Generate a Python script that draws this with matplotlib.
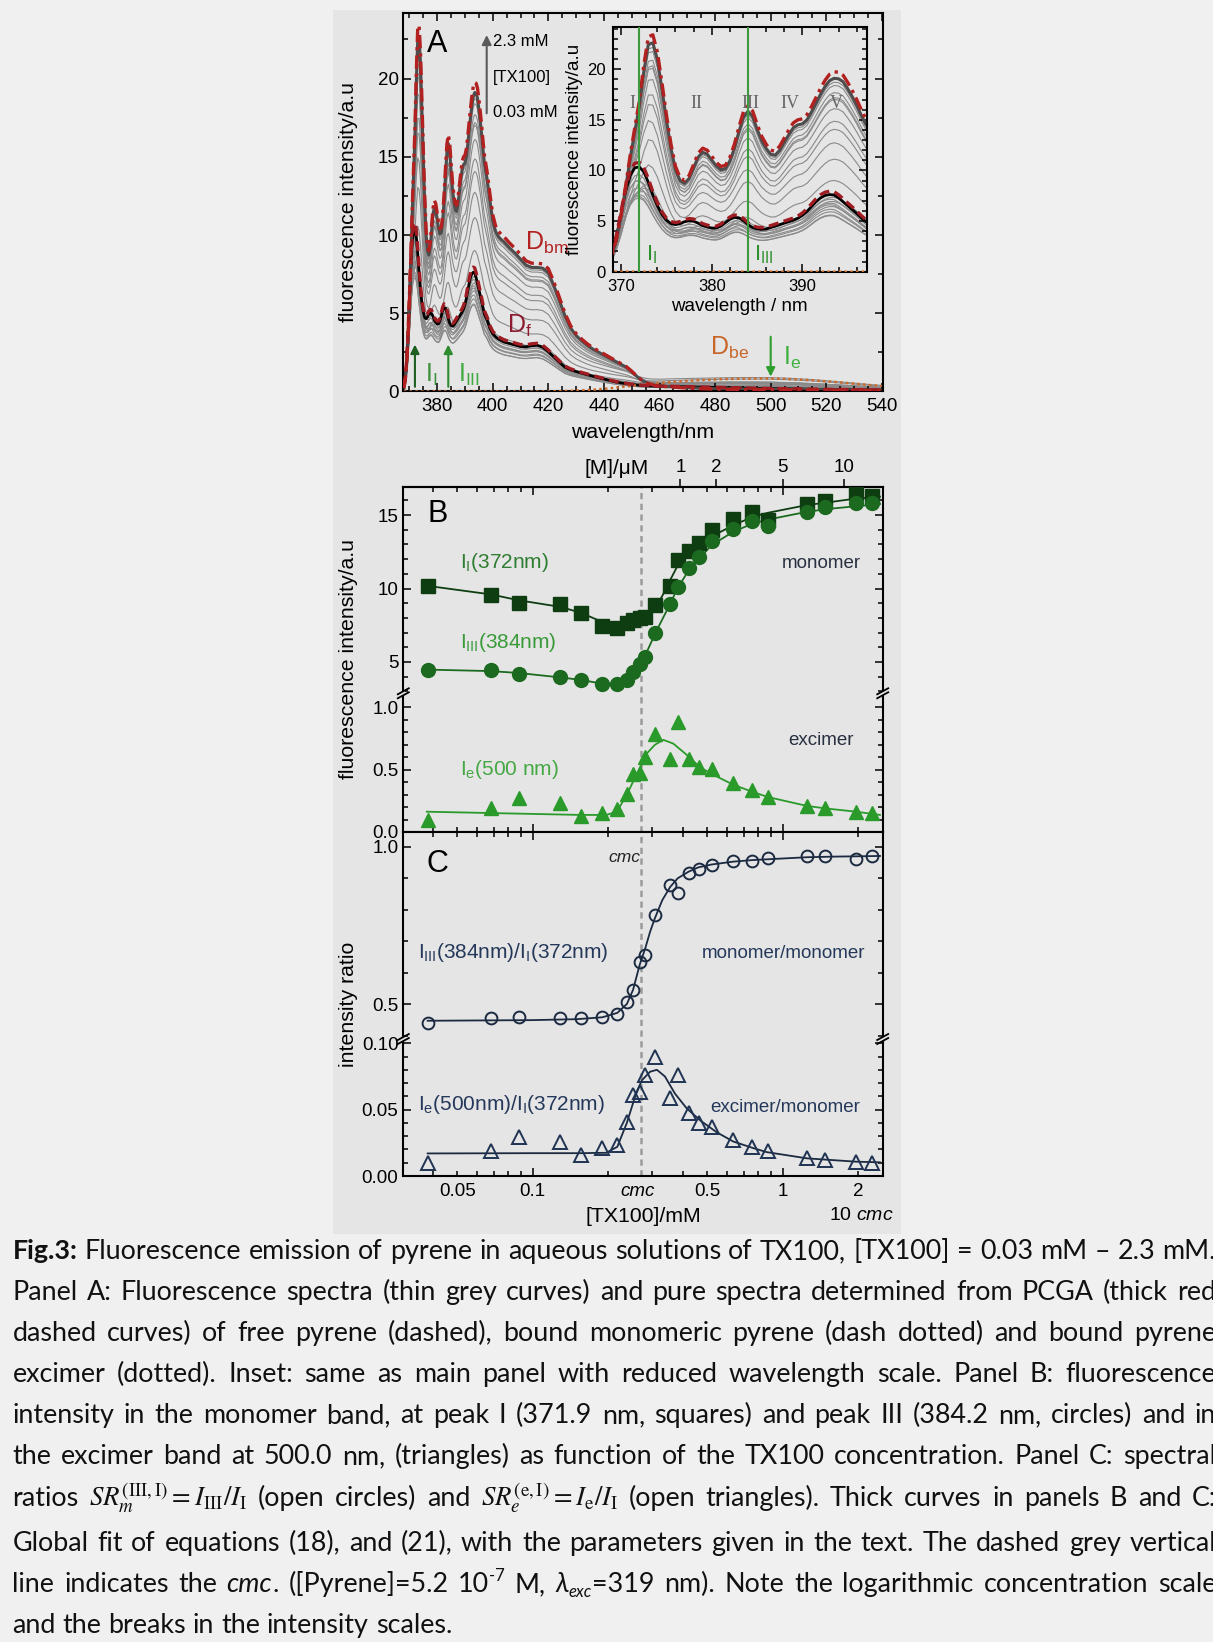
import numpy as np
import matplotlib
matplotlib.use("Agg")
import matplotlib.pyplot as plt
from matplotlib.patches import Rectangle
from matplotlib.lines import Line2D
from matplotlib.transforms import blended_transform_factory
from matplotlib.ticker import (FixedLocator, FixedFormatter, NullLocator,
                               NullFormatter, FuncFormatter, MultipleLocator,
                               LogLocator)

# ------------------------------------------------------------------
# Spectra (panel A / inset): wavelength grid and the three pure spectra
# ------------------------------------------------------------------
wavelength = np.array([
    368.0, 368.5, 369.0, 369.5, 370.0, 370.5, 371.0, 371.5, 372.0, 372.5,
    373.0, 373.5, 374.0, 374.5, 375.0, 375.5, 376.0, 376.5, 377.0, 377.5,
    378.0, 378.5, 379.0, 379.5, 380.0, 380.5, 381.0, 381.5, 382.0, 382.5,
    383.0, 383.5, 384.0, 384.5, 385.0, 385.5, 386.0, 386.5, 387.0, 387.5,
    388.0, 388.5, 389.0, 389.5, 390.0, 390.5, 391.0, 391.5, 392.0, 392.5,
    393.0, 393.5, 394.0, 394.5, 395.0, 395.5, 396.0, 396.5, 397.0,
    398, 399, 400, 401, 402, 403, 404, 405, 406,
    408, 410, 412, 414, 416, 418, 420, 422, 424, 426,
    428, 430, 432, 434, 436, 438, 440, 442, 444, 446,
    448, 450, 452, 454, 456, 458, 460,
    465, 470, 475, 480, 485, 490, 495, 500, 505, 510,
    515, 520, 525, 530, 535, 540])

# free pyrene (dashed)
D_free = np.array([
    0.3, 0.9, 1.9, 3.7, 6.0, 8.3, 9.9, 10.7, 10.8, 10.3,
    9.2, 7.9, 6.8, 5.9, 5.3, 4.95, 4.85, 4.95, 5.15, 5.25,
    5.2, 5.0, 4.75, 4.6, 4.5, 4.5, 4.7, 5.05, 5.4, 5.6,
    5.55, 5.25, 4.85, 4.55, 4.4, 4.35, 4.4, 4.55, 4.7, 4.85,
    5.0, 5.15, 5.3, 5.5, 5.8, 6.2, 6.7, 7.2, 7.6, 7.85,
    7.95, 7.9, 7.6, 7.2, 6.8, 6.4, 6.0, 5.55, 5.15,
    4.75, 4.2, 3.85, 3.65, 3.5, 3.4, 3.3, 3.25, 3.2,
    3.1, 3.0, 2.98, 3.05, 3.08, 2.95, 2.65, 2.3, 1.95, 1.62,
    1.45, 1.33, 1.22, 1.12, 1.02, 0.92, 0.83, 0.74, 0.65, 0.58,
    0.52, 0.47, 0.43, 0.4, 0.38, 0.36, 0.35,
    0.33, 0.31, 0.29, 0.27, 0.25, 0.23, 0.21, 0.2, 0.18, 0.17,
    0.15, 0.14, 0.13, 0.12, 0.11, 0.1])

# bound monomeric pyrene (dash-dotted)
D_bound_mono = np.array([
    0.2, 0.7, 1.7, 3.3, 5.6, 8.5, 11.5, 14.2, 16.8, 20.4,
    23.2, 23.4, 21.7, 18.7, 15.5, 12.6, 10.4, 9.3, 9.0, 9.5,
    10.6, 11.7, 12.2, 12.0, 11.4, 10.8, 10.4, 10.5, 11.3, 12.6,
    14.3, 15.8, 16.4, 15.9, 14.6, 13.4, 12.6, 12.0, 11.9, 12.4,
    13.2, 14.0, 14.7, 15.0, 15.1, 15.5, 16.3, 17.2, 18.1, 18.9,
    19.5, 19.75, 19.7, 19.4, 18.7, 17.9, 17.0, 16.0, 15.1,
    14.0, 12.6, 11.3, 10.6, 10.25, 10.05, 9.9, 9.7, 9.5,
    9.15, 8.75, 8.35, 8.2, 8.2, 8.15, 7.85, 7.0, 6.0, 5.0,
    4.2, 3.7, 3.35, 3.05, 2.8, 2.6, 2.4, 2.2, 2.0, 1.8,
    1.6, 1.3, 0.95, 0.68, 0.5, 0.4, 0.34,
    0.28, 0.22, 0.18, 0.15, 0.14, 0.13, 0.12, 0.12, 0.11, 0.1,
    0.1, 0.09, 0.08, 0.08, 0.07, 0.07])

# bound pyrene excimer (dotted)
D_bound_exc = np.array([
    0.0, 0.0, 0.0, 0.0, 0.0, 0.0, 0.0, 0.0, 0.0, 0.0,
    0.0, 0.0, 0.0, 0.0, 0.0, 0.0, 0.0, 0.0, 0.0, 0.0,
    0.0, 0.0, 0.0, 0.0, 0.0, 0.0, 0.0, 0.0, 0.0, 0.0,
    0.0, 0.0, 0.0, 0.0, 0.0, 0.0, 0.0, 0.0, 0.0, 0.0,
    0.0, 0.0, 0.0, 0.0, 0.0, 0.0, 0.0, 0.0, 0.0, 0.0,
    0.0, 0.0, 0.0, 0.0, 0.0, 0.0, 0.0, 0.0, 0.0,
    0.0, 0.0, 0.0, 0.0, 0.0, 0.0, 0.0, 0.0, 0.0,
    0.0, 0.0, 0.0, 0.0, 0.0, 0.0, 0.0, 0.01, 0.02, 0.03,
    0.04, 0.05, 0.07, 0.09, 0.11, 0.14, 0.17, 0.2, 0.24, 0.28,
    0.32, 0.36, 0.4, 0.44, 0.48, 0.52, 0.55,
    0.62, 0.68, 0.73, 0.77, 0.8, 0.82, 0.83, 0.83, 0.81, 0.77,
    0.72, 0.65, 0.58, 0.5, 0.42, 0.35])

# ------------------------------------------------------------------
# Titration data (panels B and C)
# ------------------------------------------------------------------
tx100_mM = np.array([0.038, 0.068, 0.088, 0.129, 0.156, 0.190, 0.218, 0.238,
                     0.252, 0.268, 0.282, 0.308, 0.355, 0.381, 0.423, 0.461,
                     0.520, 0.634, 0.757, 0.875, 1.247, 1.480, 1.960, 2.280])
I_372 = np.array([10.18, 9.59, 9.02, 8.93, 8.30, 7.45, 7.28, 7.62,
                  7.89, 7.97, 8.07, 8.87, 10.16, 11.93, 12.55, 13.07,
                  13.98, 14.70, 15.23, 14.65, 15.75, 15.98, 16.48, 16.30])
I_384 = np.array([4.48, 4.43, 4.21, 3.98, 3.80, 3.48, 3.48, 3.80,
                  4.32, 4.89, 5.34, 6.98, 8.93, 10.11, 11.43, 12.16,
                  13.25, 14.03, 14.61, 14.25, 15.23, 15.52, 15.84, 15.84])
I_500 = np.array([0.096, 0.19, 0.27, 0.23, 0.128, 0.155, 0.182, 0.305,
                  0.466, 0.47, 0.60, 0.787, 0.584, 0.886, 0.584, 0.52,
                  0.504, 0.39, 0.337, 0.279, 0.209, 0.19, 0.163, 0.15])
ratio_III_I = np.array([0.441, 0.455, 0.458, 0.455, 0.455, 0.458, 0.470, 0.505,
                        0.544, 0.634, 0.656, 0.783, 0.878, 0.851, 0.915, 0.928,
                        0.941, 0.955, 0.955, 0.963, 0.970, 0.970, 0.959, 0.970])
ratio_e_I = np.array([0.010, 0.019, 0.0296, 0.0259, 0.0158, 0.0209, 0.0234, 0.041,
                      0.061, 0.0635, 0.0761, 0.0899, 0.0585, 0.0761, 0.0472, 0.0397,
                      0.0372, 0.0271, 0.0221, 0.0191, 0.0133, 0.012, 0.0108, 0.010])

# global-fit curves
fit_I372_c = [0.038, 0.068, 0.088, 0.129, 0.156, 0.19, 0.218, 0.238, 0.26, 0.28,
              0.31, 0.33, 0.354, 0.38, 0.42, 0.46, 0.52, 0.634, 0.757, 0.876,
              1.25, 1.48, 1.96, 2.45]
fit_I372_v = [10.18, 9.6, 9.2, 8.75, 8.35, 7.72, 7.45, 7.45, 7.6, 7.9,
              8.7, 9.5, 10.55, 11.55, 12.45, 13.05, 13.55, 14.3, 14.88, 15.16,
              15.68, 15.84, 16.12, 16.25]
fit_I384_c = [0.038, 0.068, 0.088, 0.129, 0.156, 0.19, 0.218, 0.238, 0.252, 0.268,
              0.282, 0.309, 0.354, 0.379, 0.423, 0.46, 0.52, 0.634, 0.76, 0.876,
              1.25, 1.49, 1.96, 2.45]
fit_I384_v = [4.48, 4.38, 4.25, 3.95, 3.78, 3.52, 3.45, 3.7, 4.15, 4.8,
              5.45, 6.94, 8.93, 10.0, 11.3, 11.98, 12.96, 13.86, 14.43, 14.7,
              15.22, 15.4, 15.6, 15.75]
fit_I500_c = [0.0377, 0.156, 0.197, 0.217, 0.238, 0.26, 0.286, 0.308, 0.333, 0.365,
              0.413, 0.467, 0.527, 0.634, 0.763, 0.876, 1.247, 1.476, 1.964, 2.45]
fit_I500_v = [0.163, 0.137, 0.137, 0.163, 0.30, 0.46, 0.63, 0.70, 0.74, 0.71,
              0.62, 0.52, 0.46, 0.38, 0.32, 0.28, 0.21, 0.19, 0.163, 0.137]
fit_rm_c = [0.038, 0.1, 0.15, 0.19, 0.218, 0.238, 0.252, 0.268, 0.282, 0.295,
            0.308, 0.33, 0.355, 0.38, 0.42, 0.46, 0.52, 0.634, 0.757, 1.0,
            1.25, 1.6, 2.0, 2.45]
fit_rm_v = [0.447, 0.449, 0.452, 0.458, 0.472, 0.50, 0.545, 0.625, 0.677, 0.73,
            0.772, 0.83, 0.872, 0.899, 0.92, 0.934, 0.943, 0.952, 0.957, 0.962,
            0.966, 0.968, 0.969, 0.97]
fit_re_c = [0.038, 0.1, 0.156, 0.197, 0.218, 0.238, 0.257, 0.273, 0.295, 0.314,
            0.338, 0.371, 0.413, 0.467, 0.544, 0.634, 0.763, 0.863, 1.25, 1.96, 2.45]
fit_re_v = [0.017, 0.0172, 0.0172, 0.0175, 0.022, 0.040, 0.060, 0.072, 0.0786, 0.080,
            0.075, 0.062, 0.051, 0.042, 0.033, 0.026, 0.021, 0.018, 0.0133, 0.0108, 0.0103]

cmc_mM = 0.272                      # dashed vertical marker
micelle_ticks_uM = [1, 2, 5, 10]    # top scale of panel B
micelle_offset_mM = 0.237           # [TX100] at [M] = 0
micelle_slope_mM = 0.1527           # mM TX100 per uM micelles

# ------------------------------------------------------------------
# Measured spectra = free + bound monomer + bound excimer contributions
# (weights follow from the intensities at 372, 384 and 500 nm)
# ------------------------------------------------------------------
i372 = int(np.where(wavelength == 372.0)[0][0])
i384 = int(np.where(wavelength == 384.0)[0][0])
i500 = int(np.where(wavelength == 500.0)[0][0])
M = np.array([[D_free[i372], D_bound_mono[i372]],
              [D_free[i384], D_bound_mono[i384]]])
w_free, w_mono = np.linalg.solve(M, np.vstack([I_372, I_384]))
w_free = np.clip(w_free, 0, None)
w_mono = np.clip(w_mono, 0, None)
w_exc = np.clip((I_500 - w_free * D_free[i500] - w_mono * D_bound_mono[i500])
                / D_bound_exc[i500], 0, None)
spectra = (w_free[:, None] * D_free + w_mono[:, None] * D_bound_mono
           + w_exc[:, None] * D_bound_exc)

# ------------------------------------------------------------------
# Figure
# ------------------------------------------------------------------
W, H, DPI = 1213, 1642, 100
PAGE_BG = "#f0f0f0"
PANEL_BG = "#e5e5e5"
TICK = 13.5
ALAB = 15.3

plt.rcParams.update({
    "font.family": ["Liberation Sans", "DejaVu Sans"],
    "mathtext.fontset": "custom",
    "mathtext.rm": "Liberation Sans",
    "mathtext.it": "Liberation Sans:italic",
    "mathtext.bf": "Liberation Sans:bold",
    "axes.linewidth": 1.5,
})

fig = plt.figure(figsize=(W / DPI, H / DPI), dpi=DPI)
fig.patch.set_facecolor(PAGE_BG)
fig.add_artist(Rectangle((333 / W, 1 - 1234 / H), (901 - 333) / W, (1234 - 10.5) / H,
                         transform=fig.transFigure, facecolor=PANEL_BG,
                         edgecolor="none", zorder=0))


def box(l, t, r, b):
    return [l / W, 1 - b / H, (r - l) / W, (b - t) / H]


def style(ax):
    ax.set_facecolor(PANEL_BG)
    for sp in ax.spines.values():
        sp.set_linewidth(1.5)
    ax.tick_params(which="both", direction="in", top=True, right=True,
                   width=1.1, labelsize=TICK)
    ax.tick_params(which="major", length=6)
    ax.tick_params(which="minor", length=3.5)


# ---------------- panel A ----------------
axA = fig.add_axes(box(402.7, 13.3, 882.7, 391.5))
style(axA)
axA.set_xlim(367.6, 540.3)
axA.set_ylim(0, 24.17)
axA.xaxis.set_major_locator(MultipleLocator(20))
axA.xaxis.set_minor_locator(MultipleLocator(5))
axA.yaxis.set_major_locator(MultipleLocator(5))
axA.yaxis.set_minor_locator(MultipleLocator(2.5))
axA.tick_params(axis="x", pad=5)
axA.tick_params(axis="y", pad=3)


def draw_spectra(ax):
    for s in spectra[1:-1]:
        ax.plot(wavelength, s, color="#8a8a8a", lw=0.8, zorder=1)
    ax.plot(wavelength, spectra[0], color="black", lw=2.0, zorder=2)
    ax.plot(wavelength, spectra[-1], color="#4d4d4d", lw=2.2, zorder=2)
    ax.plot(wavelength, D_bound_exc, color="#cc6a28", lw=1.8,
            ls=(0, (1, 1.3)), zorder=3)
    ax.plot(wavelength, D_free, color="#9e1c22", lw=2.4,
            ls=(0, (3, 1.6)), zorder=3)
    ax.plot(wavelength, D_bound_mono, color="#b22020", lw=2.4,
            ls=(0, (4, 1.5, 1, 1.5)), zorder=3)


draw_spectra(axA)
axA.set_xlabel("wavelength/nm", fontsize=ALAB)
axA.set_ylabel("fluorescence intensity/a.u", fontsize=ALAB)
axA.xaxis.set_label_coords(0.5, -0.082)
axA.yaxis.set_label_coords(-0.093, 0.5)

axA.text(0.0725, 0.919, "A", transform=axA.transAxes, fontsize=22,
         ha="center", va="center")
axA.annotate("", xy=(0.175, 0.9426), xytext=(0.175, 0.7356),
             xycoords="axes fraction",
             arrowprops=dict(arrowstyle="-|>", color="#5a5a5a", lw=1.5,
                             mutation_scale=14, shrinkA=0, shrinkB=0))
for txt, yy in (("2.3 mM", 0.925), ("[TX100]", 0.8297), ("0.03 mM", 0.738)):
    axA.text(0.1888, yy, txt, transform=axA.transAxes, fontsize=12,
             ha="left", va="center")
axA.text(0.2548, 0.374, r"D$_\mathrm{bm}$", transform=axA.transAxes,
         fontsize=18, color="#b22020", va="baseline")
axA.text(0.2167, 0.1547, r"D$_\mathrm{f}$", transform=axA.transAxes,
         fontsize=18, color="#8e1c30", va="baseline")
axA.text(0.640, 0.0965, r"D$_\mathrm{be}$", transform=axA.transAxes,
         fontsize=18, color="#c8662a", va="baseline")
axA.text(0.0465, 0.0251, r"I$_\mathrm{I}$", transform=axA.transAxes,
         fontsize=18, color="#3c8f3c", va="baseline")
axA.text(0.1152, 0.0251, r"I$_\mathrm{III}$", transform=axA.transAxes,
         fontsize=18, color="#3faa3f", va="baseline")
axA.text(0.792, 0.070, r"I$_\mathrm{e}$", transform=axA.transAxes,
         fontsize=18, color="#3fb03f", va="baseline")
for wl0, y0, y1, col in ((372, 0.3, 3.0, "#1e5e20"), (384, 0.3, 3.0, "#2e8b2e"),
                         (500, 3.5, 0.95, "#2e9e2e")):
    axA.annotate("", xy=(wl0, y1), xytext=(wl0, y0),
                 arrowprops=dict(arrowstyle="-|>", color=col, lw=1.5,
                                 mutation_scale=13, shrinkA=0, shrinkB=0))

# ---------------- inset ----------------
axI = fig.add_axes(box(612.7, 26.7, 866.7, 271.7))
style(axI)
axI.tick_params(labelsize=12)
axI.set_xlim(369.07, 397.1)
axI.set_ylim(0, 24.2)
axI.xaxis.set_major_locator(MultipleLocator(10))
axI.xaxis.set_minor_locator(MultipleLocator(2))
axI.yaxis.set_major_locator(MultipleLocator(5))
axI.yaxis.set_minor_locator(MultipleLocator(1))
axI.tick_params(axis="both", pad=5)
draw_spectra(axI)
axI.axvline(372, color="#3c9a3c", lw=1.5, zorder=4)
axI.axvline(384, color="#3c9a3c", lw=1.5, zorder=4)
for txt, xx in (("I", 371.2), ("II", 378.3), ("III", 384.3), ("IV", 388.6), ("V", 393.7)):
    axI.text(xx, 16.6, txt, fontsize=13, family="Liberation Serif",
             color="#666666", ha="center", va="center", zorder=5)
axI.text(372.75, 1.15, r"I$_\mathrm{I}$", fontsize=16, color="#2f8f2f",
         va="baseline", zorder=5)
axI.text(384.7, 1.15, r"I$_\mathrm{III}$", fontsize=16, color="#2f8f2f",
         va="baseline", zorder=5)
axI.set_xlabel("wavelength / nm", fontsize=13.5)
axI.set_ylabel("fluorescence intensity/a.u", fontsize=13.5)
axI.xaxis.set_label_coords(0.5, -0.107)
axI.yaxis.set_label_coords(-0.117, 0.5)


# ---------------- broken intensity scales ----------------
def broken_scale(lo_top, hi_bot, lo_rate, hi_rate):
    u1 = lo_top * lo_rate
    yk = np.array([-100.0, lo_top, hi_bot, 100.0])
    uk = np.array([-100.0 * lo_rate, u1, u1 + 1e-3,
                   u1 + 1e-3 + (100.0 - hi_bot) * hi_rate])

    def fwd(y):
        return np.interp(np.asarray(y, dtype=float), yk, uk)

    def inv(u):
        return np.interp(np.asarray(u, dtype=float), uk, yk)

    return fwd, inv


def break_marks(ax, yb, wpx, hpx):
    dx, dy, gap = 5.5 / wpx, 3.0 / hpx, 4.0 / hpx
    for x in (0.0, 1.0):
        ax.add_patch(Rectangle((x - 2.0 / wpx, yb - gap / 2), 4.0 / wpx, gap,
                               transform=ax.transAxes, facecolor=PANEL_BG,
                               edgecolor="none", clip_on=False, zorder=6))
        for off in (-gap / 2, gap / 2):
            ax.add_line(Line2D([x - dx, x + dx], [yb + off - dy, yb + off + dy],
                               transform=ax.transAxes, color="black", lw=1.3,
                               clip_on=False, zorder=7))


def log_label(v, pos):
    for target, lab in ((0.05, "0.05"), (0.1, "0.1"), (0.5, "0.5"), (1.0, "1"), (2.0, "2")):
        if abs(v / target - 1) < 1e-6:
            return lab
    return ""


XLIM = (0.03037, 2.512)

# ---------------- panel B ----------------
axB = fig.add_axes(box(403.3, 486.7, 882.7, 832))
style(axB)
axB.set_xscale("log")
axB.set_xlim(*XLIM)
fB, iB = broken_scale(1.114, 2.87, 124.5, 14.69)
axB.set_yscale("function", functions=(fB, iB))
axB.set_ylim(0, 16.93)
axB.yaxis.set_major_locator(FixedLocator([0, 0.5, 1.0, 5, 10, 15]))
axB.yaxis.set_major_formatter(FixedFormatter(["0.0", "0.5", "1.0", "5", "10", "15"]))
axB.yaxis.set_minor_locator(FixedLocator(
    [0.1, 0.2, 0.3, 0.4, 0.6, 0.7, 0.8, 0.9, 3, 4, 6, 7, 8, 9, 11, 12, 13, 14, 16]))
axB.xaxis.set_major_locator(LogLocator(base=10))
axB.xaxis.set_minor_locator(LogLocator(base=10, subs=np.arange(2, 10)))
axB.xaxis.set_major_formatter(NullFormatter())
axB.xaxis.set_minor_formatter(NullFormatter())
axB.tick_params(axis="y", pad=3.5)

axB.axvline(cmc_mM, color="#9b9b9b", lw=1.8, ls=(0, (2.5, 1.8)), zorder=0.5)
axB.plot(fit_I372_c, fit_I372_v, color="#0f3d12", lw=1.3, zorder=2)
axB.plot(fit_I384_c, fit_I384_v, color="#1b6a1f", lw=1.3, zorder=2)
axB.plot(fit_I500_c, fit_I500_v, color="#2a9a2a", lw=1.3, zorder=2)
axB.plot(tx100_mM, I_372, ls="none", marker="s", ms=9.5, color="#0f3d12", zorder=3)
axB.plot(tx100_mM, I_384, ls="none", marker="o", ms=10, color="#1b6a1f", zorder=3)
axB.plot(tx100_mM, I_500, ls="none", marker="^", ms=10.5, color="#2a9a2a", zorder=3)

ybB = fB(1.114) / fB(16.93)
break_marks(axB, ybB, 479.4, 345.3)

secB = axB.secondary_xaxis("top")
secB.set_xticks([micelle_offset_mM + micelle_slope_mM * m for m in micelle_ticks_uM],
                labels=[str(m) for m in micelle_ticks_uM])
secB.xaxis.set_minor_locator(NullLocator())
secB.tick_params(axis="x", direction="out", length=6, width=1.1, pad=2,
                 labelsize=TICK)
axB.text(0.511, 1.0368, "[M]/\u03bcM", transform=axB.transAxes, fontsize=15,
         ha="right", va="baseline")

axB.text(0.0713, 0.9206, "B", transform=axB.transAxes, fontsize=22,
         ha="center", va="center")
axB.text(0.118, 0.7646, r"I$_\mathrm{I}$(372nm)", transform=axB.transAxes,
         fontsize=15, color="#2e7d32", va="baseline")
axB.text(0.118, 0.5329, r"I$_\mathrm{III}$(384nm)", transform=axB.transAxes,
         fontsize=15, color="#3a9a3a", va="baseline")
axB.text(0.118, 0.165, r"I$_\mathrm{e}$(500 nm)", transform=axB.transAxes,
         fontsize=15, color="#45a845", va="baseline")
axB.text(0.789, 0.7646, "monomer", transform=axB.transAxes, fontsize=13.5,
         color="#283040", va="baseline")
axB.text(0.8025, 0.252, "excimer", transform=axB.transAxes, fontsize=13.5,
         color="#283040", va="baseline")
axB.set_ylabel("fluorescence intensity/a.u", fontsize=ALAB)
axB.yaxis.set_label_coords(-0.0945, 0.5)

# ---------------- panel C ----------------
axC = fig.add_axes(box(403.3, 832, 882.7, 1176))
style(axC)
axC.set_xscale("log")
axC.set_xlim(*XLIM)
fC, iC = broken_scale(0.1032, 0.389, 1327.0, 315.0)
axC.set_yscale("function", functions=(fC, iC))
axC.set_ylim(0, 1.0461)
axC.yaxis.set_major_locator(FixedLocator([0, 0.05, 0.10, 0.5, 1.0]))
axC.yaxis.set_major_formatter(FixedFormatter(["0.00", "0.05", "0.10", "0.5", "1.0"]))
axC.yaxis.set_minor_locator(FixedLocator(
    [0.01, 0.02, 0.03, 0.04, 0.06, 0.07, 0.08, 0.09, 0.4, 0.6, 0.7, 0.8, 0.9]))
axC.xaxis.set_major_locator(LogLocator(base=10))
axC.xaxis.set_minor_locator(LogLocator(base=10, subs=np.arange(2, 10)))
axC.xaxis.set_major_formatter(FuncFormatter(log_label))
axC.xaxis.set_minor_formatter(FuncFormatter(log_label))
axC.tick_params(axis="x", which="both", pad=5, labelsize=TICK)
axC.tick_params(axis="y", pad=3.5)

navy = "#1b2a41"
axC.axvline(cmc_mM, color="#9b9b9b", lw=1.8, ls=(0, (2.5, 1.8)), zorder=0.5)
axC.plot(fit_rm_c, fit_rm_v, color=navy, lw=1.3, zorder=2)
axC.plot(fit_re_c, fit_re_v, color=navy, lw=1.3, zorder=2)
axC.plot(tx100_mM, ratio_III_I, ls="none", marker="o", ms=8.5, mfc="none",
         mec=navy, mew=1.4, zorder=3)
axC.plot(tx100_mM, ratio_e_I, ls="none", marker="^", ms=9.5, mfc="none",
         mec="#1f3352", mew=1.4, zorder=3)
ybC = fC(0.1032) / fC(1.0461)
break_marks(axC, ybC, 479.4, 344)

axC.text(0.0713, 0.907, "C", transform=axC.transAxes, fontsize=22,
         ha="center", va="center")
axC.text(0.4937, 0.913, "cmc", transform=axC.transAxes, fontsize=12.5,
         style="italic", color="#222222", ha="right", va="baseline")
axC.text(0.0313, 0.6328, r"I$_\mathrm{III}$(384nm)/I$_\mathrm{I}$(372nm)",
         transform=axC.transAxes, fontsize=15, color="#24385a", va="baseline")
axC.text(0.6224, 0.633, "monomer/monomer", transform=axC.transAxes,
         fontsize=13.5, color="#24385a", va="baseline")
axC.text(0.0313, 0.1919, r"I$_\mathrm{e}$(500nm)/I$_\mathrm{I}$(372nm)",
         transform=axC.transAxes, fontsize=15, color="#24385a", va="baseline")
axC.text(0.6398, 0.187, "excimer/monomer", transform=axC.transAxes,
         fontsize=13.5, color="#24385a", va="baseline")
bt = blended_transform_factory(axC.transData, axC.transAxes)
axC.text(0.2634, -0.0456, "cmc", transform=bt, fontsize=13.5, style="italic",
         ha="center", va="center")
axC.text(0.956, -0.1134, r"10 $\mathit{cmc}$", transform=axC.transAxes,
         fontsize=14, ha="center", va="center")
axC.set_ylabel("intensity ratio", fontsize=ALAB)
axC.yaxis.set_label_coords(-0.0945, 0.5)
axC.set_xlabel("[TX100]/mM", fontsize=ALAB)
axC.xaxis.set_label_coords(0.5, -0.090)

# ------------------------------------------------------------------
# Caption (justified lines built word by word)
# ------------------------------------------------------------------
CAP_FONT = "Lato"
cap_lines = [
    [("Fig.3:", "bold", False),
     ("Fluorescence emission of pyrene in aqueous solutions of TX100, [TX100] = 0.03 mM \u2013 2.3 mM.", "reg", False)],
    [("Panel A: Fluorescence spectra (thin grey curves) and pure spectra determined from PCGA (thick red", "reg", False)],
    [("dashed curves) of free pyrene (dashed), bound monomeric pyrene (dash dotted) and bound pyrene", "reg", False)],
    [("excimer (dotted). Inset: same as main panel with reduced wavelength scale. Panel B: fluorescence", "reg", False)],
    [("intensity in the monomer band, at peak I (371.9 nm, squares) and peak III (384.2 nm, circles) and in", "reg", False)],
    [("the excimer band at 500.0 nm, (triangles) as function of the TX100 concentration. Panel C: spectral", "reg", False)],
    [("ratios", "reg", False),
     (r"$SR_m^{(\mathrm{III,I})}=I_{\mathrm{III}}/I_{\mathrm{I}}$", "math", False),
     ("(open circles) and", "reg", False),
     (r"$SR_e^{(\mathrm{e,I})}=I_{\mathrm{e}}/I_{\mathrm{I}}$", "math", False),
     ("(open triangles). Thick curves in panels B and C:", "reg", False)],
    [("Global fit of equations (18), and (21), with the parameters given in the text. The dashed grey vertical", "reg", False)],
    [("line indicates the", "reg", False), ("cmc", "ital", False),
     (". ([Pyrene]=5.2 10", "reg", True), ("-7", "sup", True),
     ("M,", "reg", False), ("\u03bb", "ital", False), ("exc", "sub", True),
     ("=319 nm). Note the logarithmic concentration scale", "reg", True)],
    [("and the breaks in the intensity scales.", "reg", False)],
]
cap_baselines = [1259, 1300, 1341, 1382, 1423, 1464, 1506, 1551, 1592, 1633]
CAP_X0, CAP_RIGHT = 12.5, 1216.0

renderer = fig.canvas.get_renderer()


def cap_props(kind, size):
    p = dict(fontfamily=[CAP_FONT, "DejaVu Sans"], fontsize=size, color="#111111")
    if kind == "bold":
        p["fontweight"] = "bold"
    if kind in ("ital", "sub"):
        p["fontstyle"] = "italic"
    if kind == "math":
        p["math_fontfamily"] = "stix"
    if kind in ("sup", "sub"):
        p["fontsize"] = size * 0.62
    return p


def tokens_of(line):
    toks = []
    for text, kind, glue in line:
        if kind in ("reg", "bold", "ital"):
            words = text.split(" ")
            for k, wd in enumerate(words):
                toks.append((wd, kind, glue if k == 0 else False))
        else:
            toks.append((text, kind, glue))
    return toks


def width_of(s, props):
    t = fig.text(0, 0, s, **props)
    w = t.get_window_extent(renderer).width
    t.remove()
    return w


def line_metrics(line, size):
    toks = tokens_of(line)
    widths = [width_of(s, cap_props(k, size)) for s, k, g in toks]
    space = width_of("a a", cap_props("reg", size)) - width_of("aa", cap_props("reg", size))
    ngaps = sum(1 for i, (s, k, g) in enumerate(toks) if i > 0 and not g)
    return toks, widths, space, ngaps


BASE = 18.0
ratios = []
for line in cap_lines[:-1]:
    toks, widths, space, ngaps = line_metrics(line, BASE)
    ratios.append((CAP_RIGHT - CAP_X0) / (sum(widths) + ngaps * space))
cap_size = BASE * min(ratios) * 0.995

for li, (line, base_y) in enumerate(zip(cap_lines, cap_baselines)):
    toks, widths, space, ngaps = line_metrics(line, cap_size)
    justify = li < len(cap_lines) - 1 and ngaps > 0
    gap = (CAP_RIGHT - CAP_X0 - sum(widths)) / ngaps if justify else space
    x = CAP_X0
    for i, ((s, k, g), w) in enumerate(zip(toks, widths)):
        if i > 0 and not g:
            x += gap
        yoff = 0.0
        if k == "sup":
            yoff = -0.42 * cap_size * DPI / 72
        elif k == "sub":
            yoff = 0.2 * cap_size * DPI / 72
        fig.text(x / W, 1 - (base_y + yoff) / H, s, va="baseline", ha="left",
                 **cap_props(k, cap_size))
        x += w

fig.savefig("out.png", dpi=DPI, facecolor=fig.get_facecolor())
